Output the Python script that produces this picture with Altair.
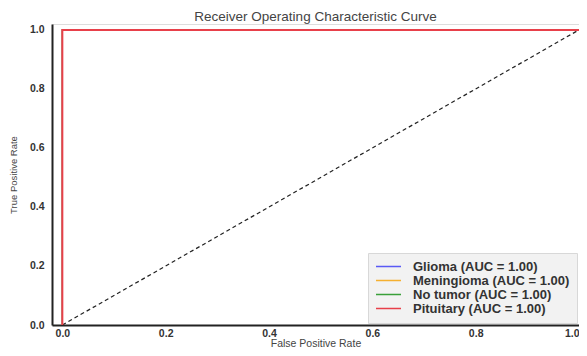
import altair as alt
import pandas as pd

classes = ["Glioma", "Meningioma", "No tumor", "Pituitary"]
aucs = [1.00, 1.00, 1.00, 1.00]
fpr = [0.0, 0.0, 1.0]
tpr = [0.0, 1.0, 1.0]
colors = ["#5a5af5", "#f5b030", "#3aa03a", "#e8404a"]
diag_x = [0.0, 1.0]
diag_y = [0.0, 1.0]

rows = []
for ci, (c, a) in enumerate(zip(classes, aucs)):
    lab = f"{c} (AUC = {a:.2f})"
    for i, (x, y) in enumerate(zip(fpr, tpr)):
        rows.append({"label": lab, "fpr": x, "tpr": y, "order": i, "k": ci})
df = pd.DataFrame(rows)
labels = [f"{c} (AUC = {a:.2f})" for c, a in zip(classes, aucs)]

diag = pd.DataFrame({"fpr": diag_x, "tpr": diag_y})

xs = alt.Scale(domain=[-0.02, 1.0], nice=False, zero=False)
ys = alt.Scale(domain=[0.0, 1.02], nice=False, zero=False)

xaxis = alt.Axis(title="False Positive Rate", values=[0, 0.2, 0.4, 0.6, 0.8, 1.0],
                 format=".1f", grid=False, ticks=False, labelFontWeight="bold",
                 labelFontSize=10.5, labelColor="#333", labelPadding=3,
                 titleFontSize=10.5, titleFontWeight="normal", titleColor="#444",
                 titlePadding=0, domainColor="#222", domainWidth=2)
yaxis = alt.Axis(title="True Positive Rate", values=[0, 0.2, 0.4, 0.6, 0.8, 1.0],
                 format=".1f", grid=False, ticks=False, labelFontWeight="bold",
                 labelFontSize=10.5, labelColor="#333", labelPadding=8,
                 titleFontSize=9.5, titleFontWeight="normal", titleColor="#444",
                 titlePadding=11, domainColor="#222", domainWidth=2)

color = alt.Color("label:N", scale=alt.Scale(domain=labels, range=colors),
                  sort=labels,
                  legend=alt.Legend(title=None, orient="bottom-right",
                                    symbolType="stroke", symbolSize=625,
                                    symbolStrokeWidth=1.5,
                                    labelFontWeight="bold", labelFontSize=13,
                                    labelColor="#333", rowPadding=0,
                                    clipHeight=13,
                                    fillColor="#f2f2f2", strokeColor="#d8d8d8",
                                    padding=7, offset=2, labelOffset=11))

base = alt.Chart(df)
lines_under = base.transform_filter(alt.datum.k < 3).mark_line(strokeWidth=1.2).encode(
    x=alt.X("fpr:Q", scale=xs, axis=xaxis),
    y=alt.Y("tpr:Q", scale=ys, axis=yaxis),
    color=color,
    order="order:Q",
    detail="k:N",
)
lines_top = base.transform_filter(alt.datum.k == 3).mark_line(strokeWidth=2).encode(
    x=alt.X("fpr:Q", scale=xs),
    y=alt.Y("tpr:Q", scale=ys),
    color=color,
    order="order:Q",
)

dline = alt.Chart(diag).mark_line(color="#222", strokeDash=[4, 3], strokeWidth=1.2).encode(
    x=alt.X("fpr:Q", scale=xs),
    y=alt.Y("tpr:Q", scale=ys),
)

chart = alt.layer(dline, lines_under, lines_top).properties(
    width=527, height=301,
    title=alt.TitleParams("Receiver Operating Characteristic Curve", fontSize=13.5,
                          fontWeight="normal", color="#444", offset=1),
    autosize=alt.AutoSizeParams(type="none"),
    padding={"left": 44, "top": 16, "right": 0, "bottom": 23},
).configure_view(stroke="#222", strokeWidth=1.5).configure(font="Liberation Sans")

chart.save("out.html", embed_options={"renderer": "svg", "actions": False})
